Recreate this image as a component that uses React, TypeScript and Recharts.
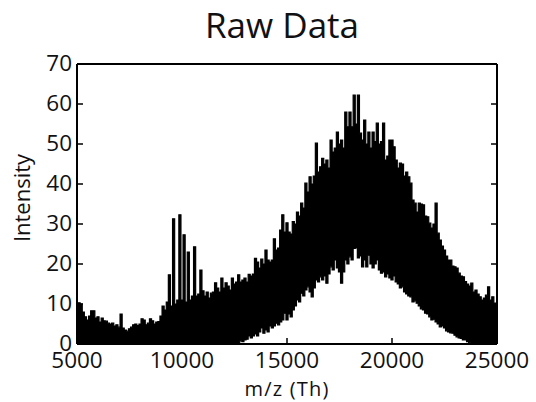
import { Area, ComposedChart, Label, XAxis, YAxis } from "recharts";

// m/z grid, 100 Th apart
const mz = [
  5000, 5100, 5200, 5300, 5400, 5500, 5600, 5700, 5800, 5900,
  6000, 6100, 6200, 6300, 6400, 6500, 6600, 6700, 6800, 6900,
  7000, 7100, 7200, 7300, 7400, 7500, 7600, 7700, 7800, 7900,
  8000, 8100, 8200, 8300, 8400, 8500, 8600, 8700, 8800, 8900,
  9000, 9100, 9200, 9300, 9400, 9500, 9600, 9700, 9800, 9900,
  10000, 10100, 10200, 10300, 10400, 10500, 10600, 10700, 10800, 10900,
  11000, 11100, 11200, 11300, 11400, 11500, 11600, 11700, 11800, 11900,
  12000, 12100, 12200, 12300, 12400, 12500, 12600, 12700, 12800, 12900,
  13000, 13100, 13200, 13300, 13400, 13500, 13600, 13700, 13800, 13900,
  14000, 14100, 14200, 14300, 14400, 14500, 14600, 14700, 14800, 14900,
  15000, 15100, 15200, 15300, 15400, 15500, 15600, 15700, 15800, 15900,
  16000, 16100, 16200, 16300, 16400, 16500, 16600, 16700, 16800, 16900,
  17000, 17100, 17200, 17300, 17400, 17500, 17600, 17700, 17800, 17900,
  18000, 18100, 18200, 18300, 18400, 18500, 18600, 18700, 18800, 18900,
  19000, 19100, 19200, 19300, 19400, 19500, 19600, 19700, 19800, 19900,
  20000, 20100, 20200, 20300, 20400, 20500, 20600, 20700, 20800, 20900,
  21000, 21100, 21200, 21300, 21400, 21500, 21600, 21700, 21800, 21900,
  22000, 22100, 22200, 22300, 22400, 22500, 22600, 22700, 22800, 22900,
  23000, 23100, 23200, 23300, 23400, 23500, 23600, 23700, 23800, 23900,
  24000, 24100, 24200, 24300, 24400, 24500, 24600, 24700, 24800, 24900,
  25000,
];

// top of the noisy trace
const upper = [
  10.3, 10.3, 10, 8, 6.8, 6, 7, 8.3, 8.3, 6.5,
  6.8, 5.5, 6.5, 5.8, 5.7, 5.2, 5, 5.2, 4.5, 4.8,
  4.2, 7.5, 4, 3.5, 3.2, 3.8, 4.2, 4.8, 5, 4.6,
  5, 6.3, 6, 4.8, 5.2, 6.3, 5.8, 5, 5.5, 5.6,
  7, 9.5, 8.5, 10.5, 17.3, 9.5, 31.3, 10, 11, 32.3,
  11, 27.3, 10.5, 23, 11, 12, 24.3, 12, 12.5, 18.5,
  13.3, 12, 13, 11.5, 12.7, 13, 15.3, 14, 13, 16.5,
  14, 15.3, 14.5, 13.5, 16.5, 15, 15.5, 17.3, 15.5, 16,
  16.5, 15.5, 17.4, 17, 17.5, 21.4, 20.5, 19, 21.2, 20,
  23.5, 21, 20.5, 21, 26.3, 23.5, 24, 28.5, 32.3, 28,
  30.3, 28, 27.5, 30.6, 30, 33, 32, 35.2, 34, 40.2,
  38, 41.8, 40, 42, 50.2, 43, 44.3, 46.4, 45, 46,
  44, 51, 48, 49, 53, 50, 51, 49, 58, 54.3,
  58, 54.3, 62.2, 55, 62.2, 52.7, 51, 56, 50, 53,
  49, 53, 50.6, 55.2, 50, 50.6, 55.2, 46, 47, 51,
  51, 49.3, 46, 44, 45.2, 45, 42, 43, 41.8, 40.2,
  36, 35.2, 33, 35.2, 35, 34.8, 32, 31.8, 30.2, 29,
  30, 35.2, 27.7, 26, 24.5, 23.5, 22, 21, 21, 19.5,
  19.3, 19, 17.7, 17, 16.8, 15.6, 15, 14.5, 15.2, 13,
  13.5, 12.5, 11.8, 11, 11.5, 12.2, 14.3, 11, 11.8, 10.2,
  10,
];

// bottom of the noisy trace
const lower = [
  0, 0, 0, 0, 0, 0, 0, 0, 0, 0,
  0, 0, 0, 0, 0, 0, 0, 0, 0, 0,
  0, 0, 0, 0, 0, 0, 0, 0, 0, 0,
  0, 0, 0, 0, 0, 0, 0, 0, 0, 0,
  0, 0, 0, 0, 0, 0, 0, 0, 0, 0,
  0, 0, 0, 0, 0, 0, 0, 0, 0, 0,
  0, 0, 0, 0, 0, 0, 0, 0, 0, 0,
  0, 0, 0, 0, 0, 0, 0, 0, 0.8, 0.6,
  1, 1.2, 2, 1.5, 2, 2.5, 2, 3, 4, 2.7,
  3.5, 3, 4.5, 4, 4.5, 5.2, 4.8, 5.5, 6, 7.7,
  6, 7.5, 6.8, 8.5, 9.5, 11, 10.5, 12.7, 12, 13.5,
  14.3, 13, 11.8, 14, 16, 15.5, 16.8, 16, 17, 15.2,
  17.5, 19.3, 18.5, 21, 19, 18, 15.2, 18, 21, 20,
  21.8, 21, 23.9, 24, 21.5, 22, 19.3, 21, 19.3, 22.2,
  20, 19, 20, 21, 18.5, 17.7, 18, 16.8, 17.5, 16.5,
  16, 17, 15.5, 15, 14, 14.3, 13, 12.5, 12, 11.8,
  10.5, 10.8, 10.2, 9.5, 8.8, 8.5, 7.7, 7.5, 6.8, 6,
  6.2, 5.5, 5, 4.3, 4.5, 4, 3.3, 3, 2.8, 2.7,
  2.2, 1.8, 1.5, 1.4, 1, 1, 0.6, 0.3, 0, 0,
  0, 0, 0, 0, 0, 0, 0, 0, 0, 0,
  0,
];

const xTicks = [5000, 10000, 15000, 20000, 25000];
const yTicks = [0, 10, 20, 30, 40, 50, 60, 70];

const rows = mz.map((m, i) => ({ mz: m, band: [lower[i], upper[i]] }));

const FONT = "'Open Sans', sans-serif";
const TICK_LEN = 6;

function BottomTick({ x, y, payload }: any) {
  return (
    <g>
      <line x1={x} y1={y} x2={x} y2={y - TICK_LEN} stroke="#000" strokeWidth={1.5} />
      <text x={x} y={y + 24} textAnchor="middle" fontSize={22.5} fontFamily={FONT} fill="#111">
        {payload.value}
      </text>
    </g>
  );
}

function TopTick({ x, y }: any) {
  return <line x1={x} y1={y} x2={x} y2={y + TICK_LEN} stroke="#000" strokeWidth={1.5} />;
}

function LeftTick({ x, y, payload }: any) {
  return (
    <g>
      <line x1={x} y1={y} x2={x + TICK_LEN} y2={y} stroke="#000" strokeWidth={1.5} />
      <text x={x - 5} y={y + 7} textAnchor="end" fontSize={22.5} fontFamily={FONT} fill="#111">
        {payload.value}
      </text>
    </g>
  );
}

function RightTick({ x, y }: any) {
  return <line x1={x} y1={y} x2={x - TICK_LEN} y2={y} stroke="#000" strokeWidth={1.5} />;
}

const frame = { stroke: "#000", strokeWidth: 2 };

export default function App() {
  return (
    <div style={{ position: "absolute", left: 0, top: 0, width: 536, height: 402, background: "#fff" }}>
      <ComposedChart width={536} height={402} data={rows} margin={{ top: 0, right: 0, bottom: 0, left: 0 }}>
        <XAxis
          xAxisId="b"
          dataKey="mz"
          type="number"
          domain={[5000, 25000]}
          allowDataOverflow
          ticks={xTicks}
          interval={0}
          height={58}
          tickSize={0}
          tickMargin={0}
          tickLine={false}
          axisLine={frame}
          tick={<BottomTick />}
        >
          <Label
            content={({ viewBox }: any) => (
              <text
                x={viewBox.x + viewBox.width / 2}
                y={viewBox.y + 52}
                textAnchor="middle"
                fontSize={20}
                letterSpacing={1.2}
                fontFamily={FONT}
                fill="#111"
              >
                m/z (Th)
              </text>
            )}
          />
        </XAxis>
        <XAxis
          xAxisId="t"
          orientation="top"
          type="number"
          domain={[5000, 25000]}
          allowDataOverflow
          ticks={xTicks}
          interval={0}
          height={64}
          tickSize={0}
          tickMargin={0}
          tickLine={false}
          axisLine={frame}
          tick={<TopTick />}
        />
        <YAxis
          yAxisId="l"
          type="number"
          domain={[0, 70]}
          allowDataOverflow
          ticks={yTicks}
          interval={0}
          width={77}
          tickSize={0}
          tickMargin={0}
          tickLine={false}
          axisLine={frame}
          tick={<LeftTick />}
        >
          <Label
            content={() => (
              <text transform="translate(30, 198) rotate(-90)" textAnchor="middle" fontSize={22} fontFamily={FONT} fill="#111">
                Intensity
              </text>
            )}
          />
        </YAxis>
        <YAxis
          yAxisId="r"
          orientation="right"
          type="number"
          domain={[0, 70]}
          allowDataOverflow
          ticks={yTicks}
          interval={0}
          width={39}
          tickSize={0}
          tickMargin={0}
          tickLine={false}
          axisLine={frame}
          tick={<RightTick />}
        />
        <Area
          xAxisId="b"
          yAxisId="l"
          dataKey="band"
          type="step"
          stroke="#000"
          strokeWidth={1.2}
          fill="#000"
          fillOpacity={1}
          isAnimationActive={false}
        />
      </ComposedChart>
      <div
        style={{
          position: "absolute",
          left: 282,
          top: 7,
          transform: "translateX(-50%)",
          fontFamily: FONT,
          fontSize: 35,
          lineHeight: "35px",
          color: "#111",
          whiteSpace: "nowrap",
        }}
      >
        Raw Data
      </div>
    </div>
  );
}
